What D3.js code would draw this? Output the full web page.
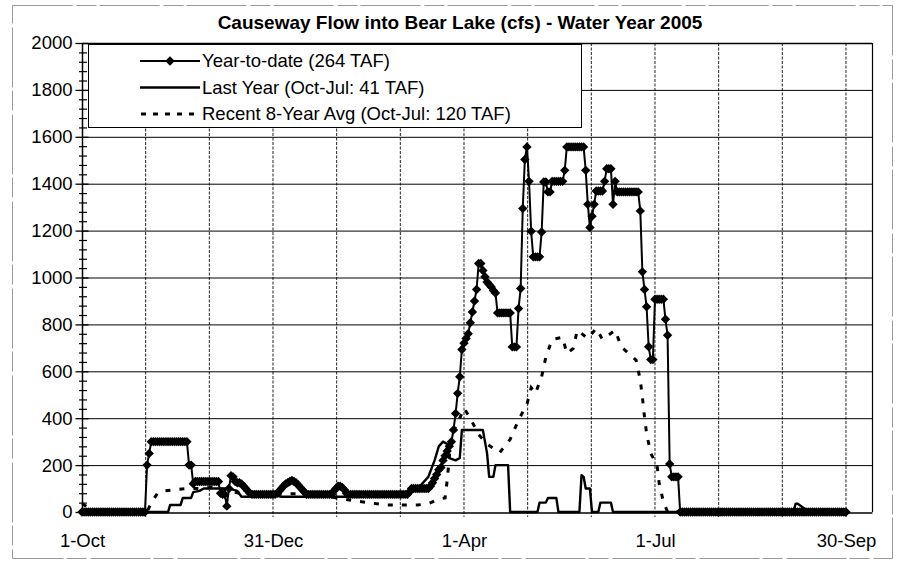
<!DOCTYPE html>
<html><head><meta charset="utf-8">
<script src="https://cdn.jsdelivr.net/npm/d3@7"></script>
<style>
body{margin:0;background:#fff}
svg{display:block}
text{font-family:"Liberation Sans",Arial,sans-serif;fill:#000}
</style>
</head><body>
<svg id="chart" width="897" height="562"></svg>
<script>
// ---------- DATA ----------
const chartTitle = "Causeway Flow into Bear Lake (cfs) - Water Year 2005";
const seriesNames = ["Year-to-date (264 TAF)", "Last Year (Oct-Jul: 41 TAF)", "Recent 8-Year Avg (Oct-Jul: 120 TAF)"];
const xTickDays = [0, 91, 182, 273, 364];
const xTickLabels = ["1-Oct", "31-Dec", "1-Apr", "1-Jul", "30-Sep"];
const yTicks = [0, 200, 400, 600, 800, 1000, 1200, 1400, 1600, 1800, 2000];

// Year-to-date daily values (day 0 = 1-Oct), by month
const ytdOct = [0,0,0,0,0,0,0,0,0,0,0,0,0,0,0,0,0,0,0,0,0,0,0,0,0,0,0,0,0,0,0];
const ytdNov = [200,250,300,300,300,300,300,300,300,300,300,300,300,300,300,300,300,300,300,300,200,200,120,130,130,130,130,130,130,130];
const ytdDec = [130,130,130,130,130,80,75,75,25,100,155,150,130,125,125,120,110,100,90,80,75,75,75,75,75,75,75,75,75,75,75];
const ytdJan = [75,80,90,100,110,120,125,130,135,130,125,115,105,95,85,75,75,75,75,75,75,75,75,75,75,75,75,75,90,100,110];
const ytdFeb = [110,105,95,80,75,75,75,75,75,75,75,75,75,75,75,75,75,75,75,75,75,75,75,75,75,75,75,75];
const ytdMar = [75,75,75,75,75,85,100,100,100,100,100,100,100,100,100,110,125,143,160,180,190,220,240,260,280,300,350,420,506,577,693];
const ytdApr = [720,740,760,807,853,900,949,1060,1060,1030,1003,981,970,960,945,934,849,849,849,849,849,849,849,704,704,704,868,953,1294,1503];
const ytdMay = [1557,1410,1197,1088,1088,1088,1088,1194,1407,1407,1365,1365,1410,1410,1410,1410,1410,1410,1457,1557,1557,1557,1557,1557,1557,1557,1557,1557,1457,1312,1213];
const ytdJun = [1261,1312,1369,1369,1369,1369,1410,1464,1464,1464,1312,1410,1365,1365,1365,1365,1365,1365,1365,1365,1365,1365,1365,1284,1024,949,875,705,650,650];
const ytdJul = [907,907,907,907,907,822,754,205,150,150,150,150,0,0,0,0,0,0,0,0,0,0,0,0,0,0,0,0,0,0,0];
const ytdAug = [0,0,0,0,0,0,0,0,0,0,0,0,0,0,0,0,0,0,0,0,0,0,0,0,0,0,0,0,0,0,0];
const ytdSep = [0,0,0,0,0,0,0,0,0,0,0,0,0,0,0,0,0,0,0,0,0,0,0,0,0,0,0,0,0,0];

// Last year (day, value)
const lyDays = [0,41,42,47,48,52,53,56,58,70,74,76,85,90,95,108,112,120,126,130,155,160,165,168,170,172,174,175,178,180,181,191,192,193,194,196,197,203,204,217,218,221,222,226,227,237,238,239,240,242,243,246,247,252,253,339,340,341,345,346,364];
const lyVals = [0,0,30,30,60,60,85,90,100,100,90,65,65,75,65,65,75,65,65,75,75,100,150,220,280,300,290,230,220,230,350,350,300,250,150,150,200,200,0,0,40,40,60,60,0,0,157,150,100,100,0,0,40,40,0,0,35,35,10,0,0];

// Recent 8-year average (day, value)
const avgDays = [0,3,5,31,33,36,39,44,50,56,62,66,70,75,80,90,100,110,118,125,132,138,145,160,165,170,173,174,176,179,182,185,189,193,199,204,208,212,214,216,219,221,224,229,231,234,236,241,245,248,254,257,264,266,267,268,269,271,274,275,277,279,364];
const avgVals = [35,20,0,0,40,80,90,95,100,100,105,100,90,80,75,75,78,75,65,55,45,38,30,30,35,55,60,136,330,379,443,400,330,290,253,310,392,460,530,505,577,660,736,745,676,697,775,740,783,736,775,704,648,562,490,406,335,250,200,122,44,0,0];

// ---------- BUILD ----------
const ytdVals = [].concat(ytdOct, ytdNov, ytdDec, ytdJan, ytdFeb, ytdMar, ytdApr, ytdMay, ytdJun, ytdJul, ytdAug, ytdSep);
const ytd = ytdVals.map((v, i) => ({d: i, v}));
const lastYear = lyDays.map((d, i) => ({d, v: lyVals[i]}));
const avg8 = avgDays.map((d, i) => ({d, v: avgVals[i]}));

const svg = d3.select("#chart");
const P = {left: 82, right: 872, top: 43, bottom: 512};
const axisMaxDay = 376.4;
const x = d3.scaleLinear().domain([0, axisMaxDay]).range([P.left, P.right]);
const y = d3.scaleLinear().domain([0, 2000]).range([P.bottom, P.top]);

// outer chart border (faint scan frame)
svg.append("rect").attr("x", 12.5).attr("y", 5.5).attr("width", 880).attr("height", 553)
  .attr("fill", "none").attr("stroke", "#9a9a9a").attr("stroke-width", 1).attr("stroke-dasharray", "60,4,20,3");

// title
svg.append("text").attr("x", 460).attr("y", 28.5).attr("text-anchor", "middle")
  .style("font-size", "19px").style("font-weight", "bold").text(chartTitle);

// vertical gridlines every 1/12 of the year
const gridDays = d3.range(1, 13).map(k => k * 364 / 12);
svg.append("g").selectAll("line").data(gridDays).join("line")
  .attr("x1", d => x(d)).attr("x2", d => x(d))
  .attr("y1", P.top).attr("y2", P.bottom + 5)
  .attr("stroke", "#222").attr("stroke-width", 1).attr("stroke-dasharray", "3,1.5");

// horizontal gridlines
svg.append("g").selectAll("line").data(yTicks.filter(v => v > 0)).join("line")
  .attr("x1", P.left).attr("x2", P.right)
  .attr("y1", d => y(d) + 0.5).attr("y2", d => y(d) + 0.5)
  .attr("stroke", "#000").attr("stroke-width", 1);

// right border
svg.append("line").attr("x1", P.right + 0.5).attr("x2", P.right + 0.5).attr("y1", P.top).attr("y2", P.bottom)
  .attr("stroke", "#000").attr("stroke-width", 1.2);

// y axis with crossing ticks
const yAxis = svg.append("g").attr("transform", `translate(${P.left + 0.5},0)`)
  .call(d3.axisLeft(y).tickValues(yTicks).tickSize(7).tickPadding(5).tickFormat(d3.format("d")));
yAxis.select(".domain").remove();
yAxis.selectAll(".tick line").attr("x1", 6).attr("x2", -7).attr("stroke", "#000").attr("stroke-width", 1.3);
yAxis.selectAll(".tick text").attr("x", -10).style("font-size", "18.5px").style("font-family", "'Liberation Sans',Arial,sans-serif").attr("fill", "#000");
const minorTicks = d3.range(0, 2001, 40).filter(v => v % 200 !== 0);
svg.append("g").selectAll("line").data(minorTicks).join("line")
  .attr("x1", P.left - 3).attr("x2", P.left + 5)
  .attr("y1", d => y(d) + 0.5).attr("y2", d => y(d) + 0.5)
  .attr("stroke", "#000").attr("stroke-width", 1.2);
svg.append("line").attr("x1", P.left + 0.5).attr("x2", P.left + 0.5).attr("y1", P.top).attr("y2", P.bottom)
  .attr("stroke", "#000").attr("stroke-width", 1.5);

// x axis
const xAxis = svg.append("g").attr("transform", `translate(0,${P.bottom + 0.5})`)
  .call(d3.axisBottom(x).tickValues(xTickDays).tickSize(0).tickPadding(21)
    .tickFormat((d, i) => xTickLabels[i]));
xAxis.select(".domain").attr("stroke", "#000").attr("stroke-width", 1.5);
xAxis.selectAll(".tick text").style("font-size", "18.5px").style("font-family", "'Liberation Sans',Arial,sans-serif").attr("fill", "#000");
svg.append("line").attr("x1", P.left).attr("x2", P.right).attr("y1", P.top + 0.5).attr("y2", P.top + 0.5)
  .attr("stroke", "#000").attr("stroke-width", 1.3);

// series
const line = d3.line().x(p => x(p.d)).y(p => y(p.v));
const diamond = "M0,-4.7L4.7,0L0,4.7L-4.7,0Z";

svg.append("path").datum(avg8).attr("d", line).attr("fill", "none")
  .attr("stroke", "#000").attr("stroke-width", 3).attr("stroke-dasharray", "5,9");
svg.append("path").datum(lastYear).attr("d", line).attr("fill", "none")
  .attr("stroke", "#000").attr("stroke-width", 2.4).attr("stroke-linejoin", "round");
svg.append("path").datum(ytd).attr("d", line).attr("fill", "none")
  .attr("stroke", "#000").attr("stroke-width", 2);
svg.append("g").selectAll("path").data(ytd).join("path")
  .attr("d", diamond).attr("transform", p => `translate(${x(p.d)},${y(p.v)})`).attr("fill", "#000");

// legend
const lg = svg.append("g");
lg.append("rect").attr("x", 88.5).attr("y", 44.5).attr("width", 493).attr("height", 83)
  .attr("fill", "#fff").attr("stroke", "#000").attr("stroke-width", 1);
const rows = [61, 87.5, 114];
lg.append("line").attr("x1", 140).attr("x2", 200).attr("y1", rows[0]).attr("y2", rows[0]).attr("stroke", "#000").attr("stroke-width", 2);
lg.append("path").attr("d", diamond).attr("transform", `translate(170,${rows[0]})`).attr("fill", "#000");
lg.append("line").attr("x1", 140).attr("x2", 200).attr("y1", rows[1]).attr("y2", rows[1]).attr("stroke", "#000").attr("stroke-width", 2.4);
lg.append("line").attr("x1", 141).attr("x2", 201).attr("y1", rows[2]).attr("y2", rows[2]).attr("stroke", "#000").attr("stroke-width", 3).attr("stroke-dasharray", "5,7");
seriesNames.forEach((s, i) => {
  lg.append("text").attr("x", 202).attr("y", rows[i]).attr("dy", "0.35em")
    .style("font-size", "18.5px").text(s);
});
</script>
</body></html>
